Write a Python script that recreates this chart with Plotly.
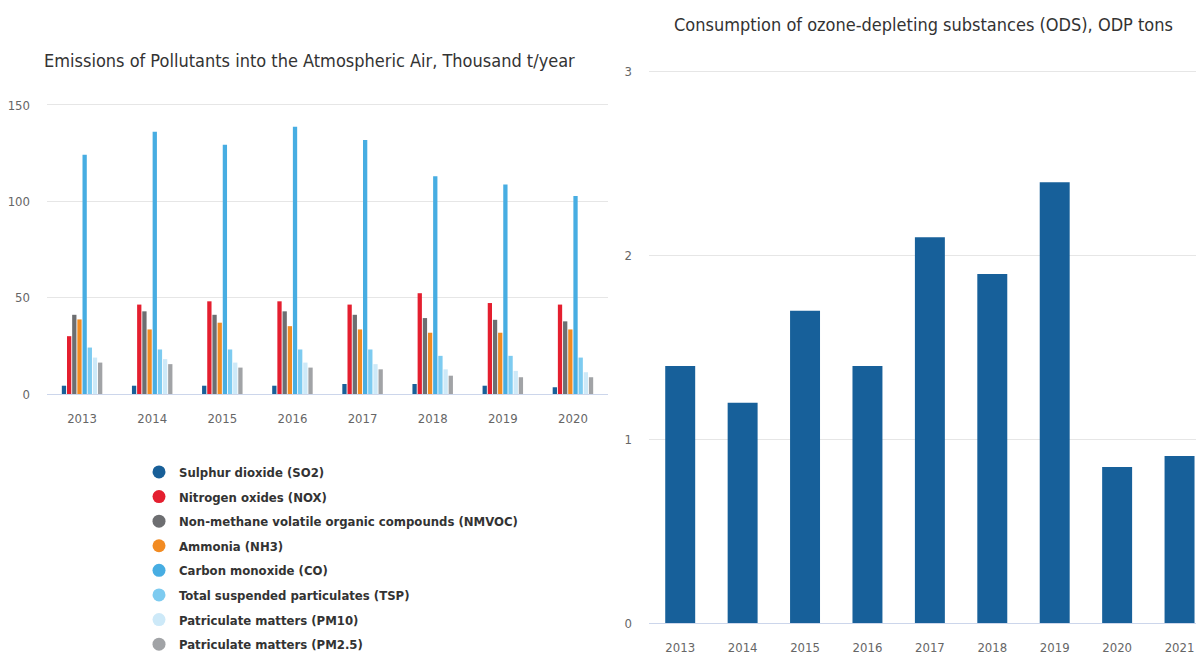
import plotly.graph_objects as go

# ---- data: left chart (thousand t/year) ----
years_left = ['2013', '2014', '2015', '2016', '2017', '2018', '2019', '2020']
so2 = [4.3, 4.3, 4.3, 4.3, 5.2, 5.2, 4.3, 3.5]
nox = [30.0, 46.4, 48.1, 48.1, 46.4, 52.3, 47.2, 46.4]
nmvoc = [41.1, 42.9, 41.1, 42.9, 41.1, 39.4, 38.5, 37.7]
nh3 = [38.7, 33.5, 37.0, 35.2, 33.5, 31.8, 31.8, 33.5]
co = [124.1, 136.1, 129.3, 138.7, 131.8, 113.0, 108.7, 102.8]
tsp = [24.1, 23.1, 23.1, 23.1, 23.1, 19.8, 19.8, 18.9]
pm10 = [18.9, 18.1, 16.3, 16.3, 15.5, 12.8, 12.0, 11.3]
pm25 = [16.3, 15.5, 13.7, 13.7, 12.8, 9.5, 8.7, 8.7]

series_names = [
    'Sulphur dioxide (SO2)',
    'Nitrogen oxides (NOX)',
    'Non-methane volatile organic compounds (NMVOC)',
    'Ammonia (NH3)',
    'Carbon monoxide (CO)',
    'Total suspended particulates (TSP)',
    'Patriculate matters (PM10)',
    'Patriculate matters (PM2.5)',
]
series_values = [so2, nox, nmvoc, nh3, co, tsp, pm10, pm25]
series_colors = ['#185f98', '#e41f2f', '#6d6e71', '#f28b22',
                 '#47ade2', '#7dcbf0', '#cde9f8', '#a1a3a6']

# ---- data: right chart (ODP tons) ----
years_right = ['2013', '2014', '2015', '2016', '2017', '2018', '2019', '2020', '2021']
ods = [1.4, 1.2, 1.7, 1.4, 2.1, 1.9, 2.4, 0.85, 0.91]

FONT = "Liberation Sans Narrow, DejaVu Sans Condensed, Arial Narrow, sans-serif"
W, H = 1204, 655
OFF = 8  # page body margin


def sx(p):
    return (p - OFF) / W


def sy(p):
    return (H - (p - OFF)) / H


fig = go.Figure()

for name, vals, col in zip(series_names, series_values, series_colors):
    fig.add_trace(go.Bar(x=years_left, y=vals, name=name, marker_color=col,
                         marker_line_width=0, showlegend=False,
                         xaxis='x', yaxis='y'))

# legend entries with circle symbols
for name, col in zip(series_names, series_colors):
    fig.add_trace(go.Scatter(x=[None], y=[None], mode='markers', name=name,
                             legendgroup=name,
                             marker=dict(symbol='circle', size=13, color=col),
                             xaxis='x', yaxis='y', showlegend=True))

fig.add_trace(go.Bar(x=years_right, y=ods, marker_color='#17609a',
                     marker_line_width=0, width=0.48, showlegend=False,
                     xaxis='x2', yaxis='y2'))

tick_font = dict(family=FONT, size=13, color='#666666')

fig.update_layout(
    width=W, height=H,
    margin=dict(l=0, r=0, t=0, b=0, autoexpand=False),
    paper_bgcolor='white', plot_bgcolor='white',
    barmode='group', bargap=0.41, bargroupgap=0.17,
    font=dict(family=FONT, color='#333333'),
    xaxis=dict(domain=[sx(47), sx(608)], type='category',
               showgrid=False, showline=True, linecolor='#ccd6eb', linewidth=1,
               ticks='', tickfont=tick_font, ticklabelstandoff=12,
               anchor='y'),
    yaxis=dict(domain=[sy(394), sy(394 - 152 * 1.927)], range=[0, 152],
               tickvals=[0, 50, 100, 150], showgrid=True, gridcolor='#e6e6e6',
               zeroline=False, showline=False, ticks='', tickfont=tick_font,
               ticklabelstandoff=16, anchor='x'),
    xaxis2=dict(domain=[sx(649), 1.0], type='category', range=[-0.5, 8.52],
                showgrid=False, showline=True, linecolor='#ccd6eb', linewidth=1,
                ticks='', tickfont=tick_font, ticklabelstandoff=12, anchor='y2'),
    yaxis2=dict(domain=[sy(623.3), sy(623.3 - 3.05 * 183.8)], range=[0, 3.05],
                tickvals=[0, 1, 2, 3], showgrid=True, gridcolor='#e6e6e6',
                zeroline=False, showline=False, ticks='', tickfont=tick_font,
                ticklabelstandoff=16, anchor='x2'),
    legend=dict(x=sx(139), y=sy(457), xanchor='left', yanchor='top',
                font=dict(family=FONT, size=13, color='#333333', weight='bold'),
                tracegroupgap=4.7, itemclick=False, bgcolor='rgba(0,0,0,0)'),
    annotations=[
        dict(text='Emissions of Pollutants into the Atmospheric Air, Thousand t/year',
             x=sx(309), y=sy(60), xref='paper', yref='paper',
             xanchor='center', yanchor='middle', showarrow=False,
             font=dict(family=FONT, size=18, color='#333333')),
        dict(text='Consumption of ozone-depleting substances (ODS), ODP tons',
             x=sx(923), y=sy(25), xref='paper', yref='paper',
             xanchor='center', yanchor='middle', showarrow=False,
             font=dict(family=FONT, size=18, color='#333333')),
    ],
)

fig.write_html('out.html')
